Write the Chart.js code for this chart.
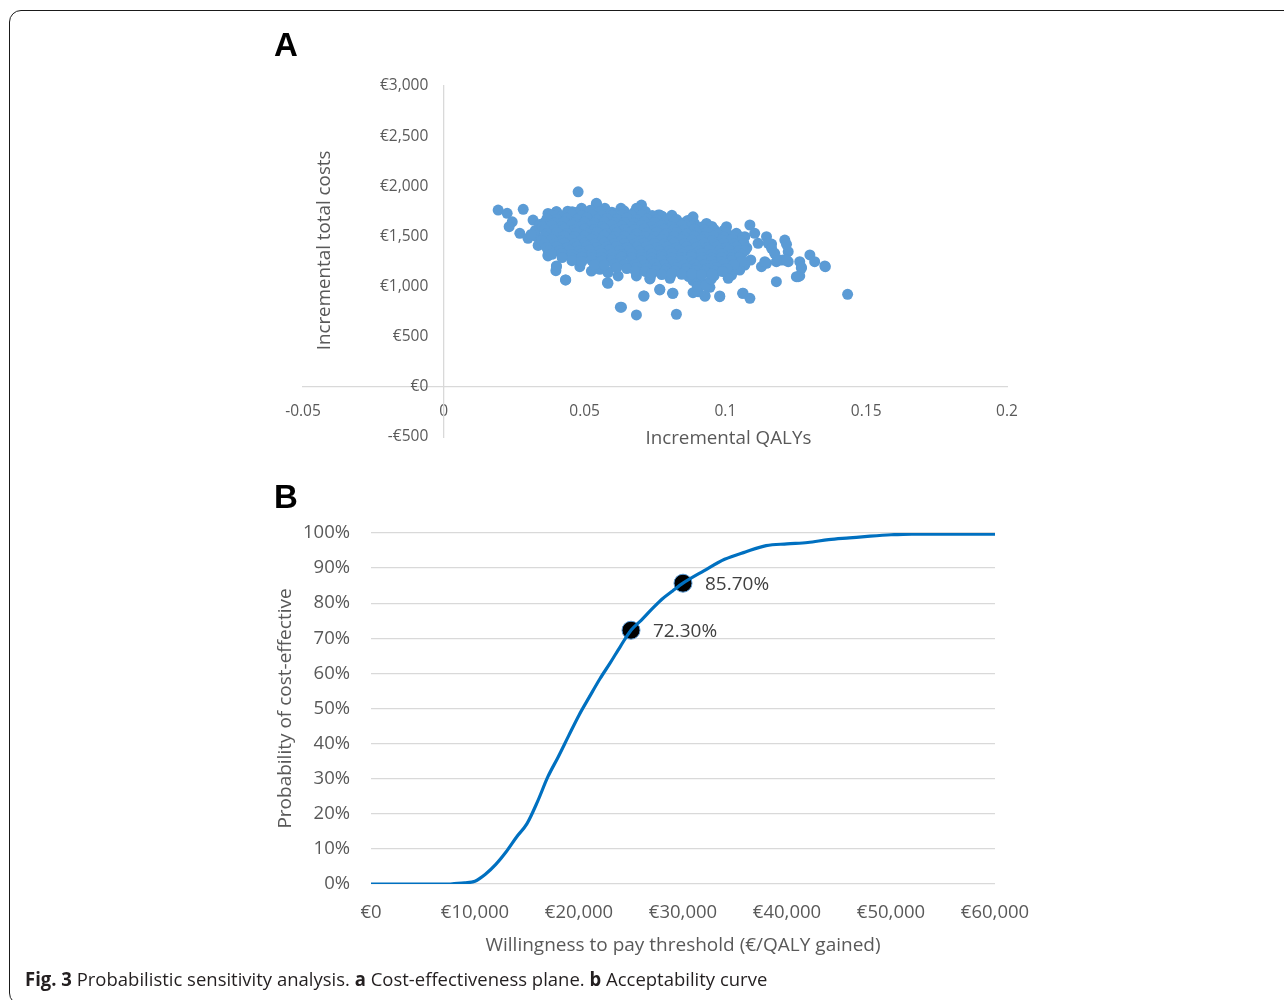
<!DOCTYPE html>
<html>
<head>
<meta charset="utf-8">
<script src="https://cdn.jsdelivr.net/npm/chart.js@4.4.1/dist/chart.umd.min.js"></script>
<style>
  html, body { margin: 0; padding: 0; width: 1284px; height: 1000px; overflow: hidden; background: #fff; }
  .frame { position: absolute; left: 9px; top: 10px; width: 1320px; height: 995px; box-sizing: border-box;
           border: 1.5px solid #1a1a1a; border-radius: 12px; }
  canvas { position: absolute; left: 0; }
  #planeChart { top: 1px; }
  #ceacChart { top: 500px; }
  .panel { position: absolute; font-family: "Liberation Sans", Arial, sans-serif; font-weight: bold; font-size: 33px; color: #000; }
  .caption { position: absolute; left: 25px; top: 966px; font-family: "Open Sans", sans-serif;
             font-size: 19px; color: #231f20; white-space: nowrap; transform: scaleX(0.973); transform-origin: left center; }
</style>
</head>
<body>
<div class="frame"></div>
<canvas id="planeChart" width="1284" height="470"></canvas>
<canvas id="ceacChart" width="1284" height="480"></canvas>
<div class="panel" style="left:274px; top:26px;">A</div>
<div class="panel" style="left:274px; top:478px;">B</div>
<div class="caption"><b>Fig. 3</b> Probabilistic sensitivity analysis. <b>a</b> Cost-effectiveness plane. <b>b</b> Acceptability curve</div>
<script>
// ---- panel A: PSA samples [incremental QALYs, incremental total costs] ----
var psaPoints = [
  // scattered outliers
  [0.0193,1763],[0.0225,1730],[0.0282,1770],[0.0243,1646],[0.0232,1597],[0.0270,1531],[0.0299,1481],[0.0317,1663],[0.0329,1497],
  [0.0477,1945],[0.0542,1830],[0.0702,1813],[0.0684,1780],[0.0370,1315],[0.0400,1198],[0.0398,1158],[0.0433,1066],[0.0483,1198],
  [0.0524,1155],[0.0583,1148],[0.0583,1033],[0.0619,1106],[0.0684,1106],[0.0631,794],[0.0684,717],[0.0710,906],[0.0732,1076],
  [0.0767,973],[0.0812,933],[0.0826,724],[0.0885,939],[0.0928,906],[0.0980,899],[0.0945,993],[0.1063,933],[0.1087,883],
  [0.1181,1049],[0.1252,1099],[0.1264,1106],[0.1270,1182],[0.1300,1315],[0.1317,1248],[0.1355,1198],[0.1434,923],[0.1211,1464],
  [0.1223,1348],[0.1146,1497],[0.1164,1424],[0.1087,1614],[0.1104,1531],[0.1004,1597],[0.0885,1696],[0.0933,1630],[0.0767,1713],
  [0.1181,1248],[0.1205,1265],[0.1223,1248],[0.1146,1232],[0.1128,1198],
  [0.1039,1531],[0.1069,1497],[0.1116,1431],[0.1152,1431],[0.1164,1381],[0.1217,1421],[0.1175,1332],[0.1193,1265],[0.1217,1265],
  [0.1140,1248],[0.1090,1265],[0.1069,1215],[0.1051,1165],[0.1022,1115],[0.1010,1083],[0.1264,1248],[0.1270,1192],[0.1258,1099],
  [0.1353,1205],[0.0939,999],[0.0903,949],[0.0927,906],[0.0980,906],[0.1061,933],[0.0814,933],[0.0897,1066],[0.0803,1083],
  [0.0903,1198],[0.0927,1148],[0.0856,1198],[0.1022,1215],[0.1039,1182],[0.0998,1182],[0.0986,1298],[0.1016,1348],[0.1063,1348],
  [0.0370,1729],[0.0400,1746],[0.0456,1746],[0.0489,1780],[0.0542,1823],[0.0572,1780],[0.0629,1780],[0.0688,1770],[0.0761,1713],
  [0.0809,1680],[0.0370,1365],[0.0370,1305],[0.0400,1205],[0.0432,1066],[0.0554,1172],[0.0583,1138],[0.0581,1039],[0.0732,1083],
  [0.0767,966],[0.0711,906],[0.0627,794],
  [0.0885,1060],[0.0915,1050],[0.0900,1000],[0.0930,1010],[0.0950,1075],[0.0870,1100],[0.0960,1110],
  [0.0325,1560],[0.0340,1620],[0.0335,1410],[0.0310,1520],
  // dense core
  [0.0400,1745],[0.0440,1752],[0.0470,1738],[0.0520,1760],[0.0555,1748],[0.0597,1741],[0.0640,1755],[0.0675,1737],[0.0716,1748],
  [0.0383,1712],[0.0420,1706],[0.0455,1715],[0.0490,1708],[0.0527,1713],[0.0562,1704],[0.0598,1711],[0.0633,1716],[0.0668,1705],
  [0.0703,1712],[0.0740,1708],[0.0775,1702],[0.0810,1710],
  [0.0366,1675],[0.0401,1668],[0.0437,1680],[0.0472,1671],[0.0508,1683],[0.0543,1666],[0.0579,1678],[0.0614,1672],[0.0650,1685],
  [0.0685,1669],[0.0721,1676],[0.0756,1664],[0.0792,1672],[0.0827,1668],[0.0866,1659],
  [0.0358,1640],[0.0393,1634],[0.0428,1643],[0.0464,1636],[0.0500,1641],[0.0535,1633],[0.0570,1645],[0.0606,1637],[0.0641,1640],
  [0.0677,1632],[0.0712,1644],[0.0748,1638],[0.0783,1635],[0.0818,1642],[0.0854,1636],[0.0890,1630],
  [0.0350,1600],[0.0384,1610],[0.0419,1598],[0.0455,1612],[0.0490,1601],[0.0526,1607],[0.0561,1596],[0.0597,1611],[0.0632,1603],
  [0.0668,1598],[0.0703,1609],[0.0739,1600],[0.0774,1606],[0.0810,1597],[0.0845,1610],[0.0881,1602],[0.0916,1594],[0.0952,1599],
  [0.0358,1570],[0.0393,1566],[0.0428,1573],[0.0464,1564],[0.0500,1571],[0.0535,1568],[0.0570,1575],[0.0606,1563],[0.0641,1570],
  [0.0677,1567],[0.0712,1574],[0.0748,1565],[0.0783,1571],[0.0818,1568],[0.0854,1563],[0.0890,1572],[0.0925,1566],[0.0960,1570],
  [0.0995,1562],
  [0.0366,1530],[0.0401,1540],[0.0437,1528],[0.0472,1537],[0.0508,1531],[0.0543,1542],[0.0579,1529],[0.0614,1536],[0.0650,1540],
  [0.0685,1527],[0.0721,1535],[0.0756,1541],[0.0792,1530],[0.0827,1538],[0.0863,1526],[0.0898,1533],[0.0934,1540],[0.0969,1528],
  [0.1005,1535],[0.1040,1522],
  [0.0358,1500],[0.0393,1496],[0.0428,1503],[0.0464,1497],[0.0500,1501],[0.0535,1494],[0.0570,1504],[0.0606,1498],[0.0641,1502],
  [0.0677,1495],[0.0712,1500],[0.0748,1497],[0.0783,1505],[0.0818,1499],[0.0854,1494],[0.0890,1502],[0.0925,1497],[0.0960,1501],
  [0.0995,1495],[0.1030,1500],[0.1062,1492],
  [0.0348,1460],[0.0384,1470],[0.0419,1458],[0.0455,1467],[0.0490,1462],[0.0526,1471],[0.0561,1459],[0.0597,1466],[0.0632,1461],
  [0.0668,1469],[0.0703,1457],[0.0739,1464],[0.0774,1470],[0.0810,1458],[0.0845,1466],[0.0881,1461],[0.0916,1468],[0.0952,1456],
  [0.0987,1463],[0.1023,1470],[0.1058,1455],
  [0.0358,1430],[0.0393,1426],[0.0428,1433],[0.0464,1428],[0.0500,1431],[0.0535,1424],[0.0570,1434],[0.0606,1427],[0.0641,1430],
  [0.0677,1425],[0.0712,1433],[0.0748,1429],[0.0783,1426],[0.0818,1432],[0.0854,1428],[0.0890,1424],[0.0925,1431],[0.0960,1427],
  [0.0995,1433],[0.1030,1426],[0.1066,1430],
  [0.0366,1390],[0.0401,1398],[0.0437,1388],[0.0472,1396],[0.0508,1401],[0.0543,1389],[0.0579,1395],[0.0614,1399],[0.0650,1387],
  [0.0685,1394],[0.0721,1400],[0.0756,1390],[0.0792,1396],[0.0827,1388],[0.0863,1399],[0.0898,1392],[0.0934,1386],[0.0969,1397],
  [0.1005,1390],[0.1040,1395],[0.1076,1385],
  [0.0375,1360],[0.0410,1356],[0.0446,1363],[0.0481,1358],[0.0517,1361],[0.0552,1355],[0.0588,1364],[0.0623,1357],[0.0659,1360],
  [0.0694,1354],[0.0730,1362],[0.0765,1358],[0.0800,1356],[0.0836,1363],[0.0871,1359],[0.0907,1354],[0.0942,1361],[0.0978,1357],
  [0.1013,1363],[0.1048,1356],[0.1070,1360],
  [0.0384,1322],[0.0419,1330],[0.0455,1318],[0.0490,1327],[0.0526,1320],[0.0561,1331],[0.0597,1324],[0.0632,1317],[0.0668,1329],
  [0.0703,1321],[0.0739,1326],[0.0774,1318],[0.0810,1330],[0.0845,1323],[0.0881,1316],[0.0916,1328],[0.0952,1320],[0.0987,1325],
  [0.1023,1318],[0.1058,1322],
  [0.0420,1290],[0.0455,1286],[0.0490,1293],[0.0526,1288],[0.0561,1291],[0.0597,1285],[0.0632,1294],[0.0668,1287],[0.0703,1290],
  [0.0739,1284],[0.0774,1292],[0.0810,1288],[0.0845,1286],[0.0881,1293],[0.0916,1289],[0.0952,1284],[0.0987,1291],[0.1023,1287],
  [0.1050,1292],
  [0.0455,1258],[0.0490,1250],[0.0526,1260],[0.0561,1252],[0.0597,1257],[0.0632,1249],[0.0668,1261],[0.0703,1254],[0.0739,1247],
  [0.0774,1259],[0.0810,1251],[0.0845,1256],[0.0881,1248],[0.0916,1260],[0.0952,1253],[0.0987,1245],[0.1023,1257],[0.1058,1250],
  [0.0535,1220],[0.0570,1216],[0.0606,1223],[0.0641,1218],[0.0677,1221],[0.0712,1215],[0.0748,1224],[0.0783,1217],[0.0818,1220],
  [0.0854,1214],[0.0890,1222],[0.0925,1218],[0.0960,1216],[0.0995,1223],[0.1030,1219],
  [0.0614,1188],[0.0650,1180],[0.0685,1190],[0.0721,1183],[0.0756,1187],[0.0792,1179],[0.0827,1191],[0.0863,1182],[0.0898,1186],
  [0.0934,1178],[0.0969,1189],[0.1005,1181],
  [0.0680,1155],[0.0715,1151],[0.0750,1158],[0.0786,1153],[0.0821,1156],[0.0857,1150],[0.0892,1159],[0.0928,1152],[0.0963,1156],
  [0.0990,1150],
  [0.0739,1128],[0.0774,1120],[0.0810,1130],[0.0845,1122],[0.0881,1127],[0.0916,1118],[0.0952,1125]
];

// ---- panel B: acceptability curve ----
var wtpThresholds = [0, 2500, 5000, 7500, 8000, 9000, 10000, 11000, 12000, 13000, 14000, 15000, 16000, 17000, 18000, 19000,
  20000, 21000, 22000, 23000, 24000, 25000, 26000, 27000, 28000, 29000, 30000, 32000, 34000, 36000, 38000, 40000, 42000,
  44000, 46000, 48000, 50000, 52000, 55000, 60000];
var probCostEffective = [0, 0, 0, 0, 0.1, 0.3, 0.8, 2.8, 5.6, 9.2, 13.4, 17.2, 23.4, 30.5, 36.2, 42.2,
  48.1, 53.3, 58.4, 63.0, 67.8, 72.3, 75.2, 78.3, 81.2, 83.5, 85.7, 89.2, 92.5, 94.6, 96.4, 96.9, 97.3,
  98.1, 98.6, 99.1, 99.5, 99.7, 99.7, 99.7];
var markerWtp = [25000, 30000];
var markerProb = [72.3, 85.7];

var FONT = '"Open Sans", sans-serif';
var TICK_GREY = '#595959';
var GRID_GREY = '#d9d9d9';

function euro(v) {
  var s = '€' + Math.abs(v).toLocaleString('en-US');
  return v < 0 ? '-' + s : s;
}

// axis titles of the plane (axes cross at 0 so draw them by hand)
var planeAxisTitles = {
  id: 'planeAxisTitles',
  afterDraw: function (chart) {
    var ctx = chart.ctx, x = chart.scales.x, y = chart.scales.y;
    var x0 = x.getPixelForValue(0), y0 = y.getPixelForValue(0);
    ctx.save();
    ctx.fillStyle = TICK_GREY;
    ctx.font = '18.8px ' + FONT;
    ctx.textAlign = 'center';
    ctx.textBaseline = 'middle';
    ctx.fillText('Incremental QALYs', (x0 + x.right) / 2 + 3, chart.chartArea.bottom + 2);
    ctx.translate(x0 - 119, (chart.chartArea.top + y0) / 2 + 14);
    ctx.rotate(-Math.PI / 2);
    ctx.fillText('Incremental total costs', 0, 0);
    ctx.restore();
  }
};

new Chart(document.getElementById('planeChart'), {
  type: 'scatter',
  data: {
    datasets: [{
      data: psaPoints.map(function (p) { return { x: p[0], y: p[1] }; }),
      backgroundColor: '#5b9bd5',
      pointRadius: 5.5,
      pointHoverRadius: 5.5,
      pointBorderWidth: 0
    }]
  },
  options: {
    responsive: false,
    animation: false,
    layout: { padding: { left: 303, right: 277, top: 85, bottom: 34 } },
    plugins: { legend: { display: false }, tooltip: { enabled: false } },
    scales: {
      x: {
        type: 'linear', position: { y: 0 }, min: -0.05, max: 0.2,
        grid: { display: false, drawTicks: false },
        border: { color: GRID_GREY, width: 1.3 },
        ticks: {
          stepSize: 0.05, padding: 15, color: TICK_GREY, font: { family: FONT, size: 15.5 },
          callback: function (v) { return String(Number(v.toFixed(2))); }
        }
      },
      y: {
        type: 'linear', position: { x: 0 }, min: -500, max: 3000,
        grid: { display: false, drawTicks: false },
        border: { color: GRID_GREY, width: 1.3 },
        ticks: {
          stepSize: 500, padding: 16, color: TICK_GREY, font: { family: FONT, size: 15.5 },
          // labels sit right against the crossing axis, so leave a gap
          callback: function (v) { return euro(v) + '\u2003'; }
        }
      }
    }
  },
  plugins: [planeAxisTitles]
});

// value labels beside the two highlighted points
var markerLabels = {
  id: 'markerLabels',
  afterDatasetsDraw: function (chart) {
    var ctx = chart.ctx;
    var meta = chart.getDatasetMeta(1);
    ctx.save();
    ctx.fillStyle = '#404040';
    ctx.font = '19px ' + FONT;
    ctx.textAlign = 'left';
    ctx.textBaseline = 'middle';
    meta.data.forEach(function (pt, i) {
      ctx.fillText(markerProb[i].toFixed(2) + '%', pt.x + 22, pt.y + 1);
    });
    ctx.restore();
  }
};

new Chart(document.getElementById('ceacChart'), {
  type: 'line',
  data: {
    datasets: [{
      data: wtpThresholds.map(function (w, i) { return { x: w, y: probCostEffective[i] }; }),
      borderColor: '#0070c0',
      borderWidth: 3.2,
      pointRadius: 0,
      cubicInterpolationMode: 'monotone',
      fill: false
    }, {
      data: markerWtp.map(function (w, i) { return { x: w, y: markerProb[i] }; }),
      showLine: false,
      pointRadius: 9,
      pointBackgroundColor: '#000',
      pointBorderColor: '#5b9bd5',
      pointBorderWidth: 1
    }]
  },
  options: {
    responsive: false,
    animation: false,
    layout: { padding: { left: 270, right: 289, top: 33, bottom: 19 } },
    plugins: { legend: { display: false }, tooltip: { enabled: false } },
    scales: {
      x: {
        type: 'linear', min: 0, max: 60000,
        afterFit: function (s) { s.height = 77; },
        grid: { display: false, drawTicks: false },
        border: { display: false },
        ticks: { stepSize: 10000, padding: 18, color: TICK_GREY, font: { family: FONT, size: 18.5 }, maxRotation: 0,
                 callback: function (v) { return euro(v); } },
        title: { display: true, text: 'Willingness to pay threshold (€/QALY gained)', color: TICK_GREY,
                 font: { family: FONT, size: 19 }, padding: { top: 4, bottom: 4 } }
      },
      y: {
        min: 0, max: 100,
        afterFit: function (s) { s.width = 101; },
        grid: { color: GRID_GREY, lineWidth: 1.3, drawTicks: false },
        border: { display: false },
        ticks: { stepSize: 10, padding: 21, color: TICK_GREY, font: { family: FONT, size: 18.5 },
                 callback: function (v) { return v + '%'; } },
        title: { display: true, text: 'Probability of cost-effective', color: TICK_GREY,
                 font: { family: FONT, size: 19 }, padding: { top: 4, bottom: 4 } }
      }
    }
  },
  plugins: [markerLabels]
});
</script>
</body>
</html>
